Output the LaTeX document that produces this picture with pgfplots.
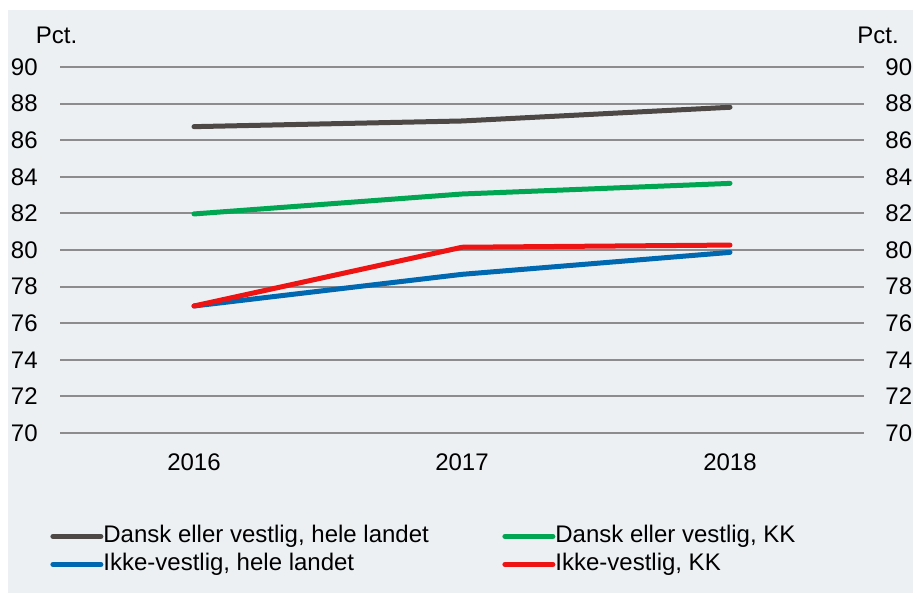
\documentclass[border=0pt]{standalone}
\usepackage{pgfplots}
\pgfplotsset{compat=1.18}
\usepackage{fontspec}
\setmainfont{Liberation Sans}

\definecolor{bgcol}{RGB}{236,240,243}
\definecolor{gridcol}{RGB}{140,140,140}
\definecolor{cdark}{RGB}{77,72,69}
\definecolor{cgreen}{RGB}{0,166,81}
\definecolor{cblue}{RGB}{0,103,177}
\definecolor{cred}{RGB}{238,20,20}

\newcommand\chartfont{\fontsize{12bp}{14bp}\selectfont}

\pgfplotsset{
  common/.style={
    scale only axis,
    width=402bp, height=183bp,
    xmin=2015.5, xmax=2018.5,
    ymin=70, ymax=90,
    ytick={70,72,...,90},
    axis line style={draw=none},
    major tick length=0pt,
    tick label style={font=\chartfont},
    /pgf/number format/assume math mode=true,
    /pgf/number format/1000 sep={},
  },
}

\begin{document}
\begin{tikzpicture}
\path[use as bounding box] (-30bp,-84.5bp) rectangle (426.5bp,216.5bp);
\fill[bgcol] (-26bp,-80bp) rectangle (426.5bp,211.5bp);

\begin{axis}[
  common,
  clip=false,
  xtick={2016,2017,2018},
  xticklabel style={inner sep=0pt, yshift=-10bp},
  yticklabel style={inner sep=0pt, xshift=-11bp},
  ymajorgrids,
  grid style={gridcol, line width=1bp},
  every axis plot/.append style={line width=2.5bp, line cap=round, line join=round},
  legend columns=2,
  legend cell align=left,
  legend image code/.code={\draw[#1] (0bp,0bp) -- (24bp,0bp);},
  legend style={
    at={(axis description cs:0,0)}, anchor=north west,
    xshift=-5bp, yshift=-46bp,
    draw=none, fill=none, inner sep=0pt,
    font=\chartfont,
    row sep=3bp,
    nodes={inner sep=0pt, text height=8.6bp, text depth=2.4bp},
    /tikz/every even column/.append style={column sep=2.5bp},
  },
]
\addplot[cdark] coordinates {(2016,86.74) (2017,87.05) (2018,87.80)};
\addlegendentry{\makebox[197bp][l]{Dansk eller vestlig, hele landet}}
\addplot[cgreen] coordinates {(2016,81.97) (2017,83.06) (2018,83.64)};
\addlegendentry{Dansk eller vestlig, KK}
\addplot[cblue] coordinates {(2016,76.94) (2017,78.67) (2018,79.87)};
\addlegendentry{Ikke-vestlig, hele landet}
\addplot[cred] coordinates {(2016,76.94) (2017,80.15) (2018,80.27)};
\addlegendentry{Ikke-vestlig, KK}

\node[anchor=base, inner sep=0pt, font=\chartfont]
  at (axis description cs:0,1) [xshift=-1.75bp, yshift=11.9bp] {Pct.};
\node[anchor=base, inner sep=0pt, font=\chartfont]
  at (axis description cs:1,1) [xshift=7bp, yshift=11.9bp] {Pct.};
\end{axis}

\begin{axis}[
  common,
  axis x line=none,
  axis y line*=right,
  yticklabel style={inner sep=0pt, xshift=10.5bp},
]
\end{axis}
\end{tikzpicture}
\end{document}
